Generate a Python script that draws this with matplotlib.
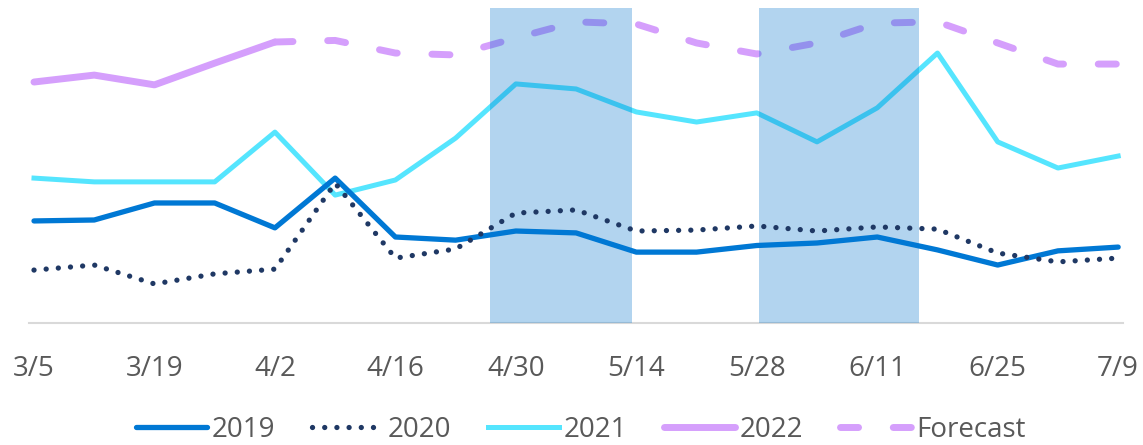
import numpy as np
import matplotlib
matplotlib.use("Agg")
import matplotlib.pyplot as plt

plt.rcParams["font.family"] = ["Open Sans", "DejaVu Sans"]

# weekly dates, 3/5 .. 7/9
weeks = ["3/5", "3/12", "3/19", "3/26", "4/2", "4/9", "4/16", "4/23", "4/30",
         "5/7", "5/14", "5/21", "5/28", "6/4", "6/11", "6/18", "6/25", "7/2", "7/9"]

y2019 = [32.4, 32.7, 38.1, 38.1, 30.2, 46.0, 27.3, 26.3, 29.2, 28.6,
         22.5, 22.5, 24.6, 25.4, 27.3, 23.2, 18.4, 22.9, 24.1]
y2020 = [16.8, 18.4, 12.4, 15.6, 17.1, 44.4, 20.6, 23.5, 34.9, 35.9,
         29.2, 29.5, 30.8, 29.2, 30.5, 29.8, 22.2, 19.4, 20.6]
y2021 = [46.0, 44.8, 44.8, 44.8, 60.6, 40.6, 45.4, 58.7, 75.9, 74.3,
         67.0, 63.8, 66.7, 57.5, 68.3, 85.7, 57.5, 49.2, 53.0]
y2022 = [76.5, 78.7, 75.6, 82.5, 89.2]
# forecast starts at the last actual 2022 week (4/2)
forecast = [89.2, 89.7, 85.7, 85.1, 90.5, 95.6, 94.9, 88.9, 85.4,
            88.9, 95.2, 95.6, 88.9, 82.2, 82.2]

# highlighted periods, in week positions
bands = [(7.57, 9.92), (12.04, 14.70)]

x = np.arange(len(weeks))
x2022 = x[:len(y2022)]
xfc = x[len(y2022) - 1:]

fig = plt.figure(figsize=(11.43, 4.45), dpi=100)
ax = fig.add_axes([0.02537, 0.27416, 0.95713, 0.70787])

ax.plot(x, y2021, color="#55e5fe", lw=3.6, zorder=1, label="2021")
ax.plot(x2022, y2022, color="#d59ffc", lw=5, zorder=1, label="2022",
        solid_capstyle="round")
ax.plot(xfc, forecast, color="#d59ffc", lw=5, zorder=1, label="Forecast",
        ls=(0, (2.6, 5.0)), dash_capstyle="round")

for x0, x1 in bands:
    ax.axvspan(x0, x1, color="#0073cc", alpha=0.3, lw=0, zorder=2)

ax.plot(x, y2019, color="#0078d4", lw=3.8, zorder=3, label="2019",
        solid_capstyle="round")
ax.plot(x, y2020, color="#1f3864", lw=3.8, zorder=4, label="2020",
        ls=(0, (0.01, 2.3)), dash_capstyle="round")

ax.set_xlim(-0.083, 18.08)
ax.set_ylim(0, 100)
ax.set_xticks(x[::2])
ax.set_xticklabels(weeks[::2])
ax.tick_params(axis="x", length=0, pad=23, labelsize=20, labelcolor="#595959")
ax.set_yticks([])
for side in ["top", "right", "left"]:
    ax.spines[side].set_visible(False)
ax.spines["bottom"].set_color("#d9d9d9")
ax.spines["bottom"].set_linewidth(1.5)
ax.spines["bottom"].set_zorder(0)

handles, labels = ax.get_legend_handles_labels()
order = ["2019", "2020", "2021", "2022", "Forecast"]
hmap = dict(zip(labels, handles))
leg = fig.legend([hmap[k] for k in order], order, loc="center",
                 bbox_to_anchor=(0.508, 0.034), ncol=5, frameon=False,
                 fontsize=20, handlelength=2.55, handletextpad=0.2,
                 columnspacing=1.3, borderpad=0, borderaxespad=0)
for t in leg.get_texts():
    t.set_color("#595959")

fig.savefig("out.png", dpi=100)
